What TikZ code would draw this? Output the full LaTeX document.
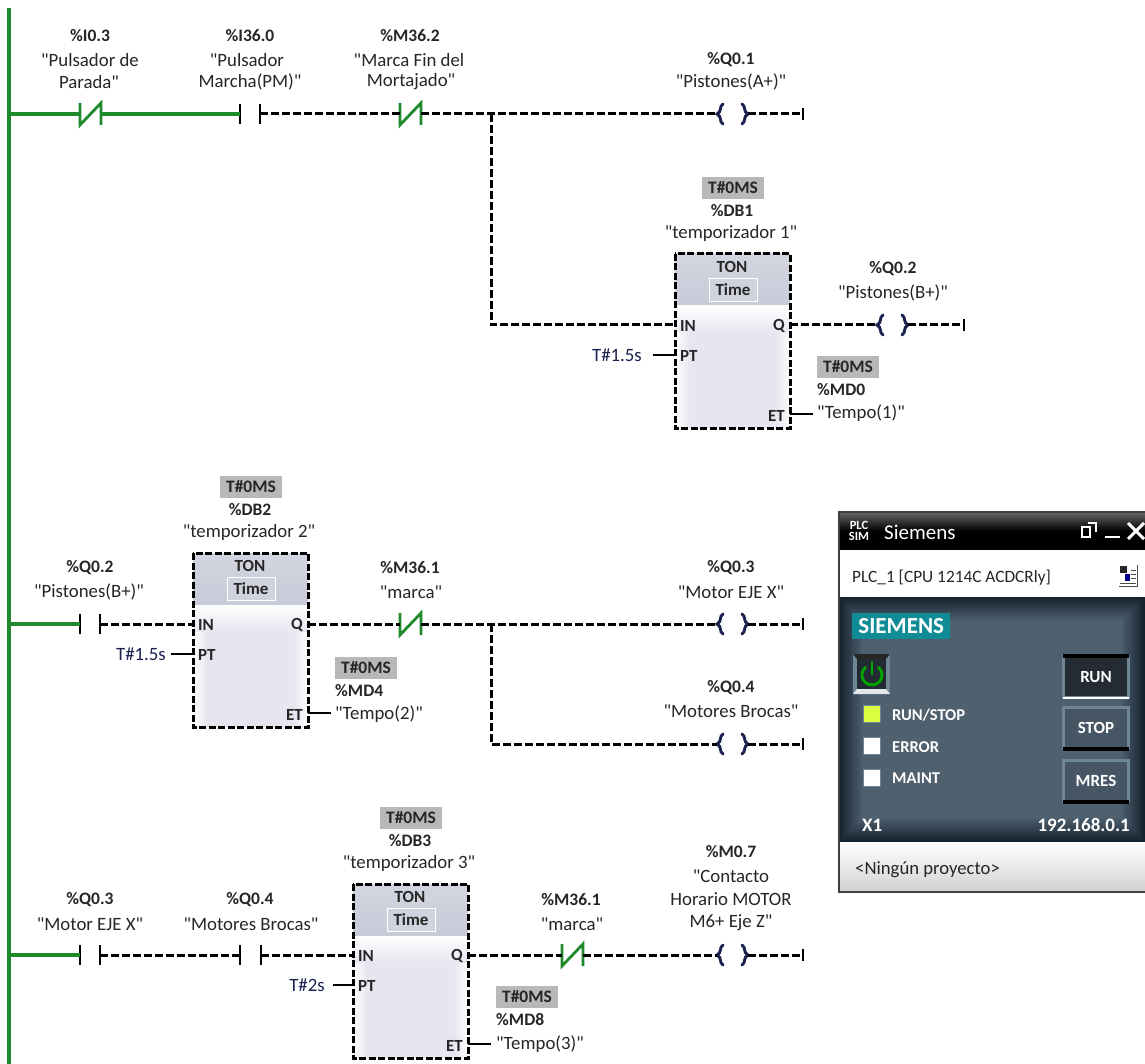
\documentclass[tikz,border=0pt]{standalone}
\usepackage{fontspec}
\setmainfont{Carlito}
\newfontfamily\plainf{Carlito}
\usetikzlibrary{calc}
\definecolor{rung}{HTML}{1E8A2C}
\definecolor{navy}{HTML}{1A2050}
\definecolor{hdr}{HTML}{C8CBD8}
\definecolor{bodyc}{HTML}{E6E6F1}
\definecolor{grayb}{HTML}{B8B8B8}
\definecolor{panel}{HTML}{4F606F}
\definecolor{paneld}{HTML}{14222E}
\definecolor{teal}{HTML}{0F8C96}
\definecolor{frame}{HTML}{6D8796}
\tikzset{
  x=1pt,y=-1pt,
  live/.style={draw=rung,line width=3.2pt},
  dead/.style={draw=black,line width=3pt,dash pattern=on 8pt off 3pt},
  solidw/.style={draw=black,line width=2.6pt},
  contactbar/.style={draw=black,line width=2.6pt},
  coilb/.style={draw=navy,line width=2.9pt,line cap=round},
  txt/.style={font=\plainf\fontsize{18.8}{18}\selectfont,inner sep=0pt,text=black!85},
  addr/.style={txt,font=\plainf\fontsize{17.5}{18}\bfseries\selectfont},
  val/.style={addr,fill=grayb,minimum width=62pt,minimum height=22pt,inner sep=0pt},
  const/.style={txt,text=navy},
  pin/.style={txt,font=\plainf\fontsize{17}{18}\bfseries\selectfont},
  lbl/.style={txt,anchor=west},
  wtxt/.style={font=\plainf\fontsize{16.5}{18}\bfseries\selectfont,text=white,inner sep=0pt},
  btn/.style={draw=frame,line width=3pt,fill=#1,minimum width=65pt,minimum height=41pt,inner sep=0pt,font=\plainf\fontsize{17}{18}\bfseries\selectfont,text=white}
}
% contact normally closed: name, left x, y, bar colour
\newcommand{\ncc}[4]{%
  \coordinate (#1-l) at (#2,#3);
  \coordinate (#1-r) at ($(#2,#3)+(21,0)$);
  \draw[draw=#4,line width=2.8pt] ($(#1-l)+(0,-11)$) -- ($(#1-l)+(0,11)$) -- ($(#1-r)+(0,-11)$) -- ($(#1-r)+(0,11)$);}
% contact normally open
\newcommand{\noc}[4]{%
  \coordinate (#1-l) at (#2,#3);
  \coordinate (#1-r) at ($(#2,#3)+(#4,0)$);
  \draw[contactbar] ($(#1-l)+(0,-10)$) -- ($(#1-l)+(0,10)$);
  \draw[contactbar] ($(#1-r)+(0,-10)$) -- ($(#1-r)+(0,10)$);}
% coil: name, left x, y, right-end x
\newcommand{\coilc}[4]{%
  \coordinate (#1-l) at (#2,#3);
  \coordinate (#1-r) at ($(#2,#3)+(31,0)$);
  \coordinate (#1-e) at (#4,#3);
  \draw[coilb] ($(#1-l)+(6,-10)$) .. controls ($(#1-l)+(2,-8)$) and ($(#1-l)+(5,-2)$) .. (#1-l) .. controls ($(#1-l)+(5,2)$) and ($(#1-l)+(2,8)$) .. ($(#1-l)+(6,10)$);
  \draw[coilb] ($(#1-r)+(-6,-10)$) .. controls ($(#1-r)+(-2,-8)$) and ($(#1-r)+(-5,-2)$) .. (#1-r) .. controls ($(#1-r)+(-5,2)$) and ($(#1-r)+(-2,8)$) .. ($(#1-r)+(-6,10)$);
  \draw[contactbar] ($(#1-e)+(0,-6)$) -- ($(#1-e)+(0,6)$);
  \draw[dead] (#1-r) -- (#1-e);}
% timer block: name, left x, top y, db, "name", constant, const x
\newcommand{\tonbox}[7]{%
  \fill[bodyc] (#2,#3) rectangle ++(115,174);
  \shade[top color=white,bottom color=bodyc] ($(#2,#3)+(0,51)$) rectangle ++(115,28);
  \shade[left color=white,right color=bodyc] ($(#2,#3)+(0,79)$) rectangle ++(14,95);
  \shade[left color=bodyc,right color=white] ($(#2,#3)+(101,79)$) rectangle ++(14,95);
  \shade[top color=hdr!80!white,bottom color=hdr] (#2,#3) rectangle ++(115,51);
  \node[pin] at ($(#2,#3)+(57,13)$) {TON};
  \node[pin,draw=white,line width=1pt,minimum width=48pt,minimum height=23pt,fill=hdr!85!white] at ($(#2,#3)+(58,36)$) {Time};
  \node[draw=none,minimum width=115pt,minimum height=174pt,inner sep=0pt,anchor=north west] (#1) at (#2,#3) {};
  \draw[dead,dash pattern=on 7pt off 2.5pt] (#1.north west) rectangle (#1.south east);
  \coordinate (#1-in) at ($(#2,#3)+(0,71)$);
  \coordinate (#1-q) at ($(#2,#3)+(115,71)$);
  \coordinate (#1-pt) at ($(#2,#3)+(0,101)$);
  \coordinate (#1-et) at ($(#2,#3)+(115,160)$);
  \node[pin,anchor=west] at ($(#1-in)+(5,1)$) {IN};
  \node[pin,anchor=east] at ($(#1-q)+(-5,1)$) {Q};
  \node[pin,anchor=west] at ($(#1-pt)+(5,1)$) {PT};
  \node[pin,anchor=east] at ($(#1-et)+(-5,2)$) {ET};
  \node[val] at ($(#2,#3)+(58,-66)$) {T\#0MS};
  \node[addr] at ($(#2,#3)+(57,-43)$) {#4};
  \node[txt] at ($(#2,#3)+(56,-21)$) {#5};
  \node[const] (#1-c) at ($(#7,#3)+(0,101)$) {#6};}
\begin{document}
\begin{tikzpicture}
\useasboundingbox (0,0) rectangle (1145,1064);
\fill[white] (0,0) rectangle (1145,1064);
% power rail
\coordinate (railtop) at (9,8);
\coordinate (railbot) at (9,1064);
\draw[draw=rung,line width=3.6pt] (railtop) -- (railbot);
\coordinate (r1) at (9,114);
\coordinate (r2) at (9,624);
\coordinate (r3) at (9,955);

% ---------- rung 1
\ncc{a1}{80}{114}{rung}
\noc{a2}{240}{114}{20}
\ncc{a3}{400}{114}{rung}
\coilc{a4}{717}{114}{803}
\coordinate (j1) at (491,114);
\coordinate (j1b) at (491,325);
\tonbox{t1}{675}{254}{\%DB1}{"temporizador 1"}{T\#1.5s}{617}
\coilc{a5}{877}{325}{964}
\draw[live] (r1) -- (a1-l);
\draw[live] (a1-r) -- (a2-l);
\draw[dead] (a2-r) -- (a3-l);
\draw[dead] (a3-r) -- (a4-l);
\draw[dead] (j1) -- (j1b) -- (t1-in);
\draw[dead] (t1-q) -- (a5-l);
\node[coordinate] (t1-ptc) at (653,355) {};
\draw[solidw] (t1-ptc) -- (t1-pt);
\coordinate (t1-etc) at (813,414);
\draw[solidw] (t1-et) -- (t1-etc);
\node[addr] at (90,36) {\%I0.3};
\node[txt] at (90,60) {"Pulsador de};
\node[txt] at (89,82) {Parada"};
\node[addr] at (250,36) {\%I36.0};
\node[txt] at (247,60) {"Pulsador};
\node[txt] at (250,82) {Marcha(PM)"};
\node[addr] at (410,36) {\%M36.2};
\node[txt] at (409,60) {"Marca Fin del};
\node[txt] at (411,82) {Mortajado"};
\node[addr] at (731,60) {\%Q0.1};
\node[txt] at (731,82) {"Pistones(A+)"};
\node[addr] at (893,269) {\%Q0.2};
\node[txt] at (893,293) {"Pistones(B+)"};
\node[val] at (848,367) {T\#0MS};
\node[addr,anchor=west] at (817,390) {\%MD0};
\node[lbl] at (817,413) {"Tempo(1)"};

% ---------- rung 2
\noc{b1}{80}{624}{20}
\tonbox{t2}{193}{553}{\%DB2}{"temporizador 2"}{T\#1.5s}{141}
\ncc{b2}{400}{624}{rung}
\coilc{b3}{717}{624}{803}
\coordinate (j2) at (491,624);
\coordinate (j2b) at (491,744);
\coilc{b4}{717}{744}{803}
\draw[live] (r2) -- (b1-l);
\draw[dead] (b1-r) -- (t2-in);
\draw[dead] (t2-q) -- (b2-l);
\draw[dead] (b2-r) -- (b3-l);
\draw[dead] (j2) -- (j2b) -- (b4-l);
\coordinate (t2-ptc) at (171,654);
\draw[solidw] (t2-ptc) -- (t2-pt);
\coordinate (t2-etc) at (331,713);
\draw[solidw] (t2-et) -- (t2-etc);
\node[addr] at (90,568) {\%Q0.2};
\node[txt] at (89,592) {"Pistones(B+)"};
\node[addr] at (410,568) {\%M36.1};
\node[txt] at (411,592) {"marca"};
\node[addr] at (731,568) {\%Q0.3};
\node[txt] at (731,592) {"Motor EJE X"};
\node[addr] at (731,688) {\%Q0.4};
\node[txt] at (731,711) {"Motores Brocas"};
\node[val] at (366,668) {T\#0MS};
\node[addr,anchor=west] at (335,691) {\%MD4};
\node[lbl] at (335,714) {"Tempo(2)"};

% ---------- rung 3
\noc{c1}{80}{955}{20}
\noc{c2}{240}{955}{21}
\tonbox{t3}{353}{884}{\%DB3}{"temporizador 3"}{T\#2s}{307}
\ncc{c3}{562}{955}{rung}
\coilc{c4}{717}{955}{803}
\draw[live] (r3) -- (c1-l);
\draw[dead] (c1-r) -- (c2-l);
\draw[dead] (c2-r) -- (t3-in);
\draw[dead] (t3-q) -- (c3-l);
\draw[dead] (c3-r) -- (c4-l);
\coordinate (t3-ptc) at (333,985);
\draw[solidw] (t3-ptc) -- (t3-pt);
\coordinate (t3-etc) at (491,1044);
\draw[solidw] (t3-et) -- (t3-etc);
\node[addr] at (90,900) {\%Q0.3};
\node[txt] at (90,924) {"Motor EJE X"};
\node[addr] at (250,900) {\%Q0.4};
\node[txt] at (251,924) {"Motores Brocas"};
\node[addr] at (571,900) {\%M36.1};
\node[txt] at (572,924) {"marca"};
\node[addr] at (731,852) {\%M0.7};
\node[txt] at (731,876) {"Contacto};
\node[txt] at (731,899) {Horario MOTOR};
\node[txt] at (731,923) {M6+ Eje Z"};
\node[val] at (527,997) {T\#0MS};
\node[addr,anchor=west] at (496,1020) {\%MD8};
\node[lbl] at (496,1044) {"Tempo(3)"};

% ---------- PLCSIM window
\shade[top color=black!60,bottom color=black,middle color=black] (839,512) rectangle (1145,550);
\fill[white] (839,550) rectangle (1145,597);
\fill[paneld] (839,597) rectangle (1145,842);
\foreach \i in {0,1,...,24}{
  \pgfmathsetmacro{\m}{\i*100/24}
  \fill[panel!\m!paneld] ($(839,597)+(\i,\i)$) rectangle ($(1145,842)+(-\i,-\i)$);
}
\shade[top color=white,bottom color=black!18] (839,842) rectangle (1145,892);
\draw[black!75,line width=1.4pt] (1146,892) -- (839,892) -- (839,512) -- (1146,512);
% title bar
\node[font=\plainf\fontsize{12.5}{11}\bfseries\selectfont,text=white,inner sep=0pt,align=center] at (859,531) {PLC\\SIM};
\node[font=\plainf\fontsize{21}{18}\selectfont,text=white,inner sep=0pt,anchor=west] at (884,532) {Siemens};
\draw[white,line width=2.6pt] (1082,527) rectangle (1090,537);
\draw[white,line width=2pt] (1088,523) -- (1096,523) -- (1096,532);
\draw[white,line width=2.8pt] (1105,537) -- (1120,537);
\draw[white,line width=3pt] (1128,523) -- (1144,539) (1144,523) -- (1128,539);
\node[font=\plainf\fontsize{17.3}{18}\selectfont,text=black!85,inner sep=0pt,anchor=west] at (852,578) {PLC\_1 [CPU 1214C ACDCRly]};
% small icon
\fill[white] (1119,565) rectangle (1137,586);
\draw[black!70,line width=1pt] (1119,586) -- (1137,586) -- (1137,565);
\fill[black!85] (1120,566) rectangle (1127,573);
\fill[blue!55!black] (1125,574) rectangle (1130,581);
\draw[black!70,line width=1pt] (1131,570)--(1136,570) (1131,574)--(1136,574) (1131,578)--(1136,578) (1120,583)--(1136,583);
% logo
\node[fill=teal,text=white,font=\plainf\fontsize{23}{18}\bfseries\selectfont,minimum width=98pt,minimum height=26pt,inner sep=0pt,anchor=north west] at (852,613) {SIEMENS};
% power button
\fill[frame] (853,654) rectangle (890,694);
\fill[white!80!frame] (853,694) -- (890,694) -- (886,689) -- (857,689) -- cycle;
\fill[black!85] (853,654) -- (890,654) -- (886,659) -- (857,659) -- cycle;
\fill[panel!45!black] (857,659) rectangle (886,689);
\draw[green!65!black,line width=2.8pt,line cap=round] ($(872,675)+(6.4,-7.7)$) arc[start angle=50,end angle=-230,radius=10pt];
\draw[green!65!black,line width=2.8pt,line cap=round] (872,662) -- (872,674);
% LEDs
\node[draw=frame,line width=1pt,fill=green!20!yellow!75!white,minimum size=17pt,inner sep=0pt] at (872,714) {};
\node[draw=frame,line width=1pt,fill=white,minimum size=17pt,inner sep=0pt] at (872,746) {};
\node[draw=frame,line width=1pt,fill=white,minimum size=17pt,inner sep=0pt] at (872,778) {};
\node[wtxt,anchor=west] at (892,715) {RUN/STOP};
\node[wtxt,anchor=west] at (892,747) {ERROR};
\node[wtxt,anchor=west] at (892,778) {MAINT};
% buttons
\node[btn=panel!45!black] at (1096,677) {RUN};
\draw[black,line width=3.4pt] (1063,656) -- (1129,656);
\draw[white,line width=2.8pt] (1063,698) -- (1129,698);
\node[btn=panel!90!black] at (1096,728) {STOP};
\draw[black,line width=3.4pt] (1063,749) -- (1129,749);
\node[btn=panel!90!black] at (1096,781) {MRES};
\draw[black,line width=3.4pt] (1063,802) -- (1129,802);
\node[wtxt,font=\plainf\fontsize{19}{18}\bfseries\selectfont,anchor=west] at (862,825) {X1};
\node[wtxt,font=\plainf\fontsize{19}{18}\bfseries\selectfont,anchor=east] at (1130,825) {192.168.0.1};
\node[font=\plainf\fontsize{18.7}{18}\selectfont,text=black!85,inner sep=0pt,anchor=west] at (855,870) {<Ningún proyecto>};
\end{tikzpicture}
\end{document}
